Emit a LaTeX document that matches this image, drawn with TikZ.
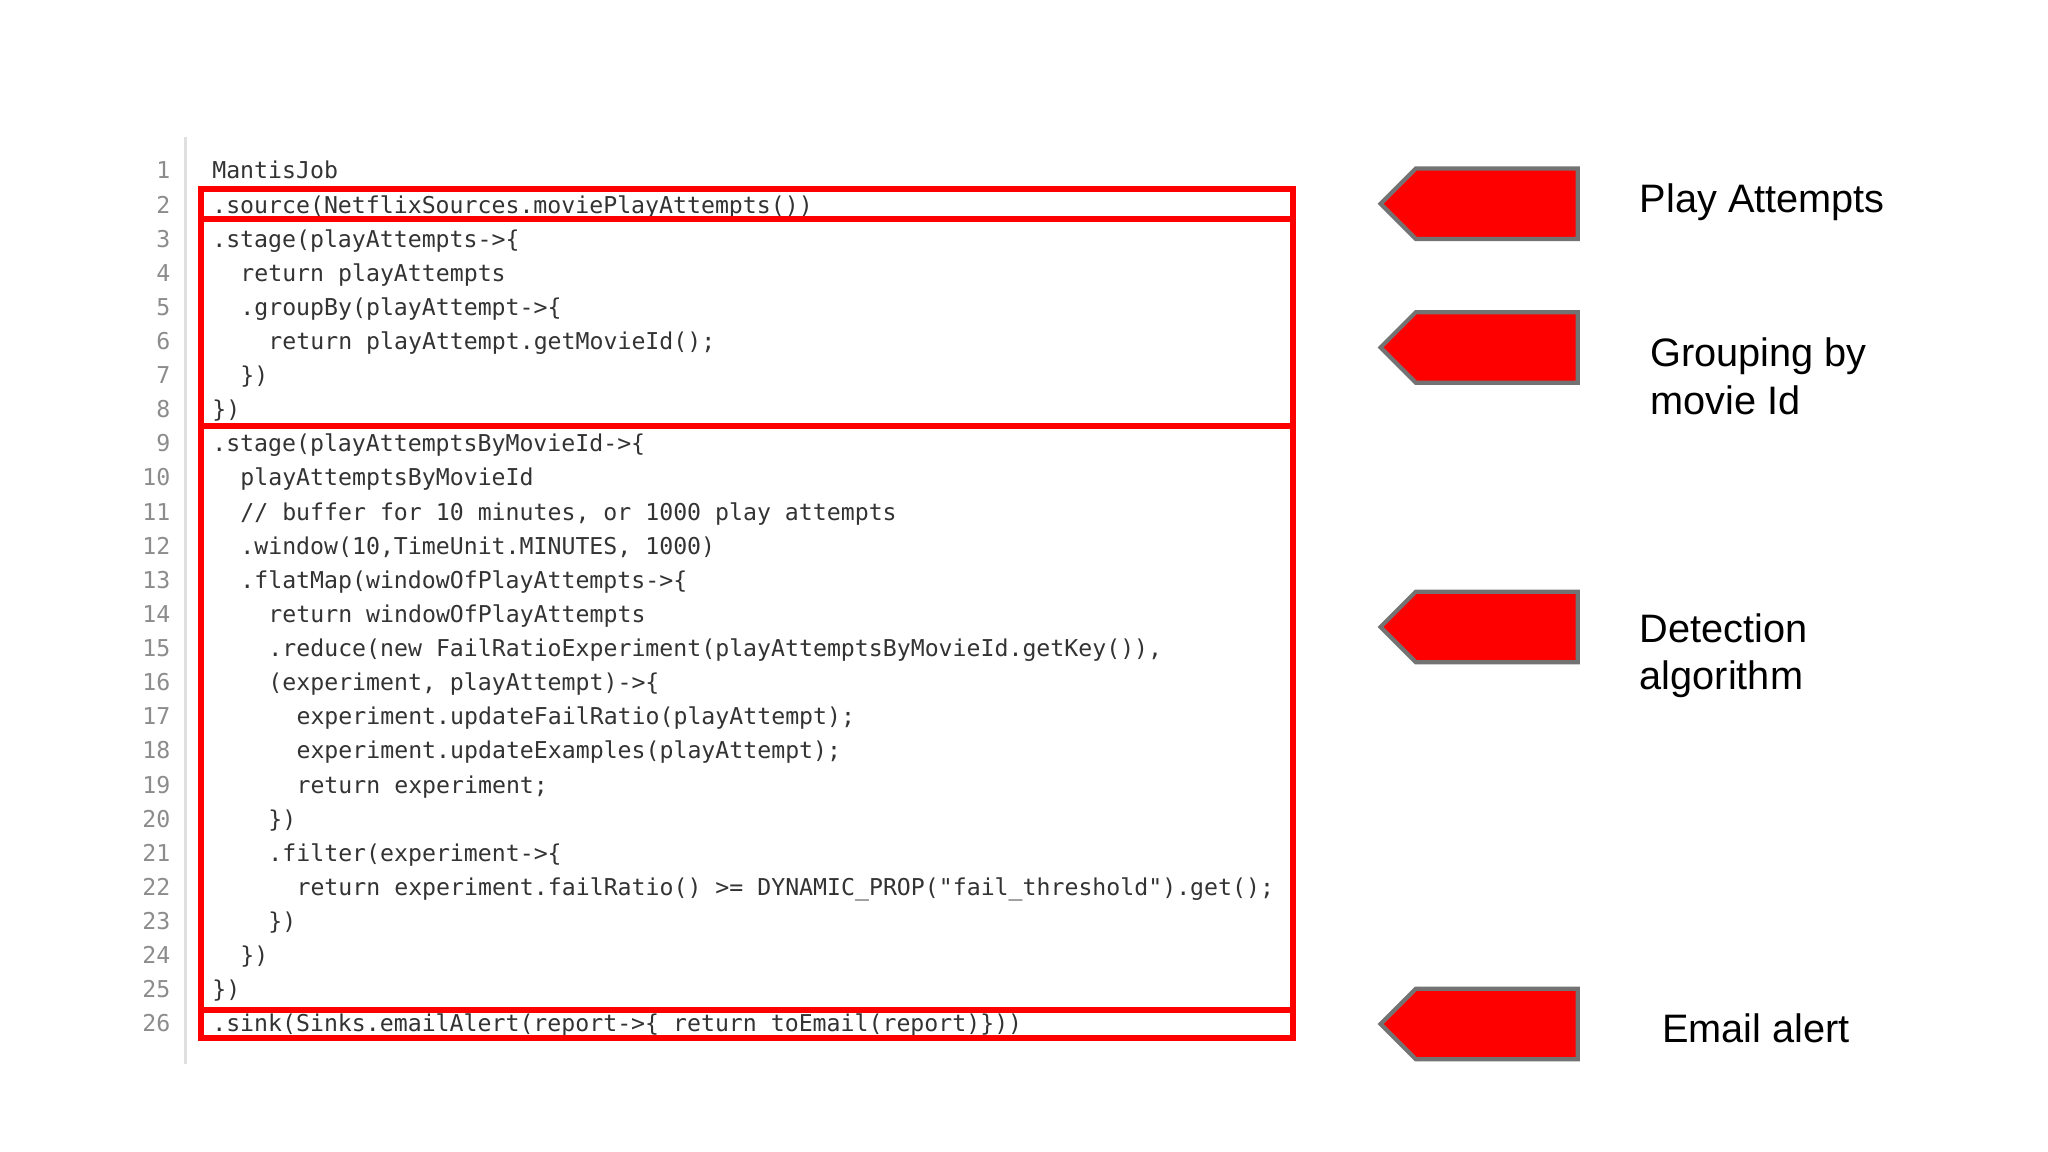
\documentclass[tikz,border=0pt]{standalone}
\usepackage{fontspec}
\setmainfont{Liberation Sans}
\newfontfamily\codefont{DejaVu Sans Mono}
\begin{document}
\begin{tikzpicture}[x=0.01306cm,y=-0.01306cm,
  code/.style={anchor=base west,inner sep=0,font=\codefont\fontsize{6.6}{8}\selectfont,text=black!80},
  lnum/.style={anchor=base east,inner sep=0,font=\codefont\fontsize{6.6}{8}\selectfont,text=black!45},
  redbox/.style={draw=red,line width=1.7pt},
  tag/.style={fill=red,draw=black!55,line width=1.2pt},
  lbl/.style={anchor=west,align=left,font=\fontsize{11.3}{13.6}\selectfont,text=black}]
\useasboundingbox (0,0) rectangle (1568,882);
\newcommand\cl[3]{%
  \node[lnum] (n#1) at (131,{130+(#1-1)*26.12+7}) {#1};
  \node[code] (c#1) at ({162+#2*10.75},{130+(#1-1)*26.12+7}) {#3};}
\draw[black!12,line width=0.8pt] (142,105) -- (142,815);
\cl{1}{0}{MantisJob}
\cl{2}{0}{.source(NetflixSources.moviePlayAttempts())}
\cl{3}{0}{.stage(playAttempts->\{}
\cl{4}{2}{return playAttempts}
\cl{5}{2}{.groupBy(playAttempt->\{}
\cl{6}{4}{return playAttempt.getMovieId();}
\cl{7}{2}{\})}
\cl{8}{0}{\})}
\cl{9}{0}{.stage(playAttemptsByMovieId->\{}
\cl{10}{2}{playAttemptsByMovieId}
\cl{11}{2}{// buffer for 10 minutes, or 1000 play attempts}
\cl{12}{2}{.window(10,TimeUnit.MINUTES, 1000)}
\cl{13}{2}{.flatMap(windowOfPlayAttempts->\{}
\cl{14}{4}{return windowOfPlayAttempts}
\cl{15}{4}{.reduce(new FailRatioExperiment(playAttemptsByMovieId.getKey()),}
\cl{16}{4}{(experiment, playAttempt)->\{}
\cl{17}{6}{experiment.updateFailRatio(playAttempt);}
\cl{18}{6}{experiment.updateExamples(playAttempt);}
\cl{19}{6}{return experiment;}
\cl{20}{4}{\})}
\cl{21}{4}{.filter(experiment->\{}
\cl{22}{6}{return experiment.failRatio() >= DYNAMIC\_PROP("fail\_threshold").get();}
\cl{23}{4}{\})}
\cl{24}{2}{\})}
\cl{25}{0}{\})}
\cl{26}{0}{.sink(Sinks.emailAlert(report->\{ return toEmail(report)\}))}
\draw[redbox] (154,145) rectangle (990,168);
\draw[redbox] (154,168) rectangle (990,326);
\draw[redbox] (154,326) rectangle (990,773);
\draw[redbox] (154,773) rectangle (990,795);
\foreach \cy/\nm in {156/a,266/b,480/c,784/d}{
  \draw[tag] (1057,\cy) -- (1084,\cy-27) -- (1208,\cy-27) -- (1208,\cy+27) -- (1084,\cy+27) -- cycle;
  \coordinate (t\nm) at (1208,\cy);}
\node[lbl] (l1) at (1246,155) {Play Attempts};
\node[lbl] (l2) at (1254,288) {Grouping by\\movie Id};
\node[lbl] (l3) at (1246,502) {Detection\\algorithm};
\node[lbl] (l4) at (1263,787) {Email alert};
\end{tikzpicture}
\end{document}
